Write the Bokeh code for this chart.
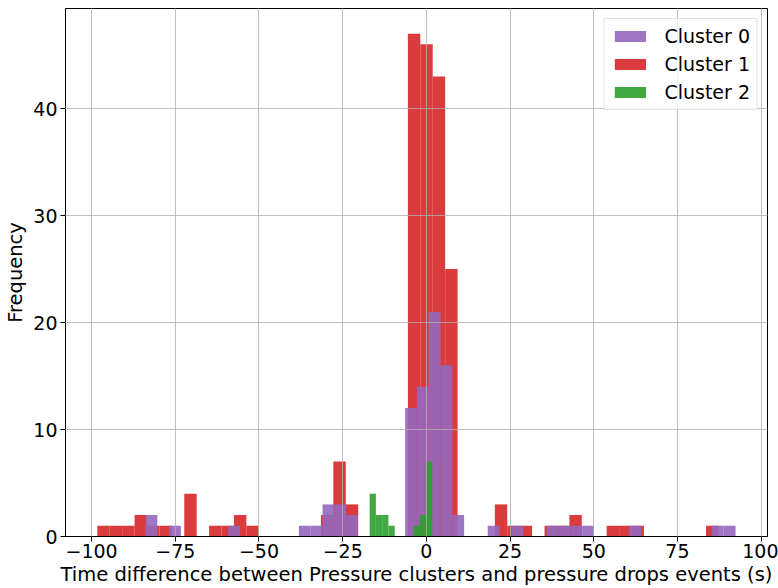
import numpy as np
from bokeh.plotting import figure
from bokeh.models import Range1d, FixedTicker, Legend, LegendItem, ColumnDataSource
from bokeh.embed import file_html
from bokeh.resources import INLINE

# ---------------- data ----------------
cluster_names = ["Cluster 0", "Cluster 1", "Cluster 2"]
cluster_colors = ["#9467bd", "#d62728", "#2ca02c"]

# Cluster 0 histogram: 50 bins
c0_bin_start = -83.90
c0_bin_width = 3.525
c0_counts = [2, 0, 1, 0, 0, 0, 0, 1, 0, 0,
             0, 0, 0, 1, 1, 3, 3, 2, 0, 0,
             0, 0, 12, 14, 21, 16, 2, 0, 0, 1,
             0, 1, 0, 0, 1, 1, 1, 1, 0, 0,
             0, 1, 0, 0, 0, 0, 0, 0, 1, 1]

# Cluster 1 histogram: 50 bins
c1_bin_start = -98.30
c1_bin_width = 3.711
c1_counts = [1, 1, 1, 2, 1, 1, 0, 4, 0, 1,
             1, 2, 1, 0, 0, 0, 0, 0, 2, 7,
             3, 0, 0, 0, 0, 47, 46, 43, 25, 0,
             0, 0, 3, 1, 1, 0, 1, 1, 2, 0,
             0, 1, 1, 1, 0, 0, 0, 0, 0, 1]

# Cluster 2 histogram: 10 bins
c2_bin_start = -16.95
c2_bin_width = 1.872
c2_counts = [4, 2, 2, 1, 0, 0, 0, 1, 2, 7]

x_ticks = [-100, -75, -50, -25, 0, 25, 50, 75, 100]
y_ticks = [0, 10, 20, 30, 40]
x_label = "Time difference between Pressure clusters and pressure drops events (s)"
y_label = "Frequency"

# ---------------- figure ----------------
FONT = "DejaVu Sans"
p = figure(width=778, height=588, output_backend="svg", toolbar_location=None,
           x_range=Range1d(-107.8, 101.9), y_range=Range1d(0, 49.35),
           min_border_left=65, min_border_right=11, min_border_top=8, min_border_bottom=52)

def hist_source(start, width, counts):
    counts = np.asarray(counts, dtype=float)
    idx = np.arange(len(counts))
    left = start + idx * width
    right = left + width
    return ColumnDataSource(dict(left=left, right=right, top=counts, bottom=np.zeros_like(counts)))

src0 = hist_source(c0_bin_start, c0_bin_width, c0_counts)
src1 = hist_source(c1_bin_start, c1_bin_width, c1_counts)
src2 = hist_source(c2_bin_start, c2_bin_width, c2_counts)

r1 = p.quad(left="left", right="right", top="top", bottom="bottom", source=src1,
            fill_color=cluster_colors[1], fill_alpha=0.9, line_color=None)
r0 = p.quad(left="left", right="right", top="top", bottom="bottom", source=src0,
            fill_color=cluster_colors[0], fill_alpha=0.9, line_color=None)
r2 = p.quad(left="left", right="right", top="top", bottom="bottom", source=src2,
            fill_color=cluster_colors[2], fill_alpha=0.9, line_color=None)

legend = Legend(items=[LegendItem(label=cluster_names[0], renderers=[r0]),
                       LegendItem(label=cluster_names[1], renderers=[r1]),
                       LegendItem(label=cluster_names[2], renderers=[r2])],
                location="top_right")
legend.margin = 10
legend.padding = 6
legend.spacing = 6
legend.glyph_width = 39
legend.glyph_height = 14
legend.label_standoff = 15
legend.label_height = 18
legend.label_text_font = FONT
legend.label_text_font_size = "19px"
legend.label_text_color = "#000000"
legend.border_line_color = "#cccccc"
legend.border_line_width = 1
legend.background_fill_color = "white"
legend.background_fill_alpha = 0.8
p.add_layout(legend)

# axes
p.xaxis.ticker = FixedTicker(ticks=x_ticks)
p.yaxis.ticker = FixedTicker(ticks=y_ticks)
p.xaxis.major_label_overrides = {t: (("\u2212" + str(abs(t))) if t < 0 else str(t)) for t in x_ticks}
for ax in (p.xaxis, p.yaxis):
    ax.major_label_text_font = FONT
    ax.major_label_text_font_size = "19px"
    ax.major_label_text_color = "#000000"
    ax.axis_label_text_font = FONT
    ax.axis_label_text_font_size = "19.5px"
    ax.axis_label_text_font_style = "normal"
    ax.axis_label_text_color = "#000000"
    ax.axis_line_color = "#000000"
    ax.major_tick_line_color = "#000000"
    ax.major_tick_out = 5
    ax.major_tick_in = 0
    ax.minor_tick_line_color = None
p.xaxis.axis_label = x_label
p.yaxis.axis_label = y_label
p.xaxis.major_label_standoff = 2
p.xaxis.axis_label_standoff = 2
p.yaxis.major_label_standoff = 3
p.yaxis.axis_label_standoff = 3

# grid above bars, below legend
for g in (p.xgrid, p.ygrid):
    g.level = "guide"
    g.grid_line_color = "#b0b0b0"
    g.grid_line_width = 0.8
p.xgrid.ticker = FixedTicker(ticks=x_ticks)
p.ygrid.ticker = FixedTicker(ticks=y_ticks)

p.outline_line_color = "#000000"
p.outline_line_width = 1
p.outline_line_alpha = 1
p.background_fill_color = "white"
p.border_fill_color = "white"

open("out.html", "w").write(file_html(p, INLINE))
